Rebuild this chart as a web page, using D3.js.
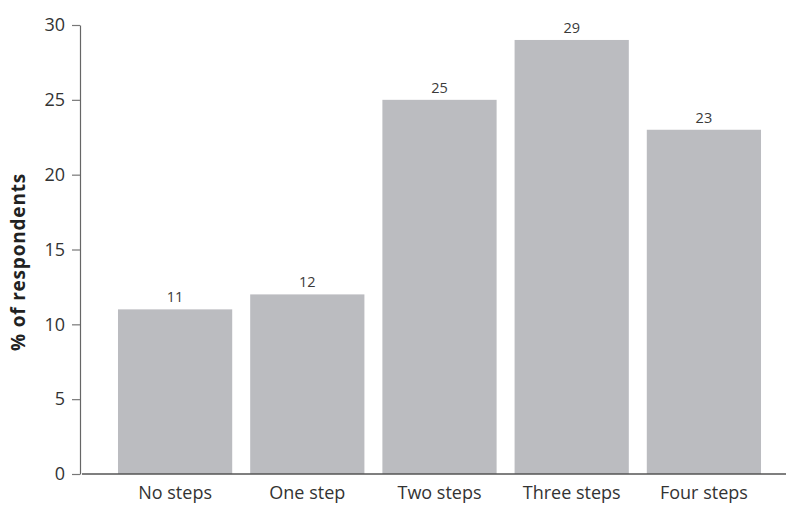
<!DOCTYPE html>
<html>
<head>
<meta charset="utf-8">
<script src="https://cdn.jsdelivr.net/npm/d3@7"></script>
<style>
  html, body { margin: 0; padding: 0; background: #fff; }
  svg { display: block; }
  text { font-family: "Open Sans", "Noto Sans", sans-serif; }
</style>
</head>
<body>
<svg id="chart" width="787" height="507"></svg>
<script>
// Share of respondents by number of steps taken
const categories = ["No steps", "One step", "Two steps", "Three steps", "Four steps"];
const values = [11, 12, 25, 29, 23];
const yTicks = [0, 5, 10, 15, 20, 25, 30];
const yTitle = "% of respondents";

const svg = d3.select("#chart");

const y = d3.scaleLinear().domain([0, 30]).range([474, 25]);
const x = d3.scaleBand()
  .domain(categories)
  .range([109, 770])
  .paddingInner(0.136)
  .paddingOuter(0.068);

// bars
svg.append("g").selectAll("rect")
  .data(values)
  .join("rect")
  .attr("x", (d, i) => x(categories[i]))
  .attr("y", d => y(d))
  .attr("width", x.bandwidth())
  .attr("height", d => y(0) - y(d))
  .attr("fill", "#bbbcc0");

// value labels
svg.append("g").selectAll("text")
  .data(values)
  .join("text")
  .attr("x", (d, i) => x(categories[i]) + x.bandwidth() / 2)
  .attr("y", d => y(d) - 7)
  .attr("text-anchor", "middle")
  .attr("font-size", 14.5)
  .attr("fill", "#3a3a3a")
  .text(d => d);

// y axis
const yAxis = svg.append("g")
  .attr("transform", "translate(80,0)")
  .call(d3.axisLeft(y).tickValues(yTicks).tickSize(8).tickPadding(7).tickSizeOuter(0));
yAxis.select(".domain").attr("stroke", "#666").attr("stroke-width", 1.2);
yAxis.selectAll(".tick line").attr("stroke", "#777").attr("stroke-width", 1.2);
yAxis.selectAll(".tick text")
  .attr("font-size", 18)
  .attr("fill", "#333")
  .style("font-family", "\"Open Sans\", \"Noto Sans\", sans-serif");

// x axis baseline and category labels
const xAxis = svg.append("g")
  .attr("transform", `translate(0,${y(0)})`)
  .call(d3.axisBottom(x).tickSize(0).tickPadding(12));
xAxis.select(".domain")
  .attr("d", "M82,0H786")
  .attr("stroke", "#555")
  .attr("stroke-width", 1.4);
xAxis.selectAll(".tick text")
  .attr("font-size", 18)
  .attr("fill", "#333")
  .style("font-family", "\"Open Sans\", \"Noto Sans\", sans-serif");

// y axis title
svg.append("text")
  .attr("transform", "translate(25,262) rotate(-90)")
  .attr("text-anchor", "middle")
  .attr("font-size", 19)
  .attr("font-weight", "bold")
  .attr("letter-spacing", 0.8)
  .attr("fill", "#222")
  .text(yTitle);
</script>
</body>
</html>
